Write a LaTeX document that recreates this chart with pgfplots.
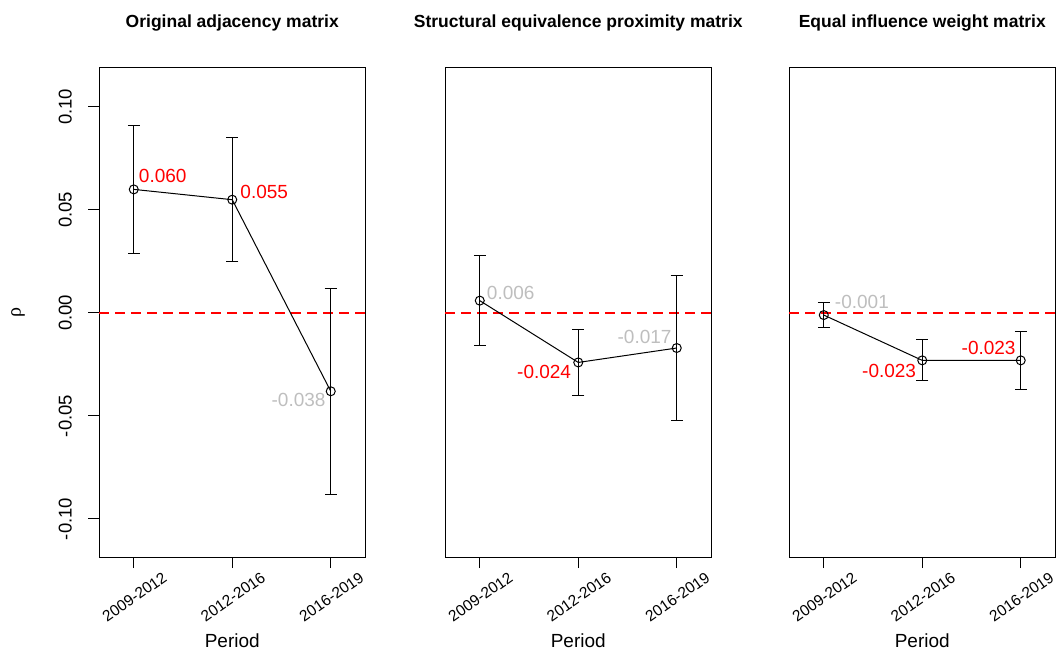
\documentclass[border=0pt]{standalone}
\usepackage{fontspec}
\setmainfont{Liberation Sans}
\newfontfamily\greekfont{Liberation Serif}
\usepackage{pgfplots}
\pgfplotsset{compat=1.18}

\definecolor{lblgray}{RGB}{190,190,190}
\definecolor{lblred}{RGB}{255,0,0}

\tikzset{lbl/.style={inner sep=0pt, font=\fontsize{19}{19}\selectfont}}

\pgfplotsset{
  panel/.style={
    scale only axis, width=266.5pt, height=489pt, anchor=south west,
    xmin=0.647, xmax=3.353, ymin=-0.11845, ymax=0.11893,
    axis line style={line width=1pt},
    xtick={1,2,3}, xticklabels={2009-2012,2012-2016,2016-2019},
    xtick pos=bottom, tick align=outside, major tick length=11pt,
    every tick/.style={black, line width=1pt},
    xticklabel style={font=\fontsize{15.5}{15.5}\selectfont, inner sep=0pt,
      anchor=north east, xshift=28pt, yshift=-3pt, rotate=35},
    xlabel={Period},
    xlabel style={font=\fontsize{19}{19}\selectfont,
      at={(axis description cs:0.5,-0.171)}, anchor=center},
    title style={font=\bfseries\fontsize{17.5}{17.5}\selectfont,
      at={(axis description cs:0.5,1.079)}, anchor=center},
    ytick=\empty,
  },
  series/.style={black, line width=1pt, mark=o, mark size=4.5pt,
    mark options={solid, line width=1pt},
    error bars/.cd, y dir=both, y explicit, error mark=|,
    error bar style={line width=1pt, black},
    error mark options={black, line width=1pt, mark size=6pt}},
  zero/.style={red, line width=1.5pt, dash pattern=on 10pt off 6pt},
}

\begin{document}
\begin{tikzpicture}
\path[use as bounding box] (0,0) rectangle (1056pt,651pt);

% panel 1
\begin{axis}[panel, at={(99pt,94pt)},
  title={Original adjacency matrix},
  ytick={-0.1,-0.05,0,0.05,0.1},
  yticklabels={-0.10,-0.05,0.00,0.05,0.10},
  ytick pos=left,
  yticklabel style={font=\fontsize{18.5}{18.5}\selectfont, inner sep=0pt,
    anchor=south, xshift=-16pt, rotate=90},
  ylabel={\greekfont ρ},
  ylabel style={font=\fontsize{20}{20}\selectfont,
    at={(axis description cs:-0.304,0.5)}, anchor=center},
]
\addplot[zero] coordinates {(0.647,0) (3.353,0)};
\addplot[series] coordinates {
  (1,0.060) +- (0,0.031)
  (2,0.055) +- (0,0.030)
  (3,-0.038) +- (0,0.050)
};
\node[lbl, anchor=west, text=lblred] at ([xshift=5pt,yshift=13pt]axis cs:1,0.060) {0.060};
\node[lbl, anchor=west, text=lblred] at ([xshift=8pt,yshift=8pt]axis cs:2,0.055) {0.055};
\node[lbl, anchor=east, text=lblgray] at ([xshift=-5pt,yshift=-9pt]axis cs:3,-0.038) {-0.038};
\end{axis}

% panel 2
\begin{axis}[panel, at={(445pt,94pt)},
  title={Structural equivalence proximity matrix}]
\addplot[zero] coordinates {(0.647,0) (3.353,0)};
\addplot[series] coordinates {
  (1,0.006) +- (0,0.022)
  (2,-0.024) +- (0,0.016)
  (3,-0.017) +- (0,0.035)
};
\node[lbl, anchor=west, text=lblgray] at ([xshift=7pt,yshift=8pt]axis cs:1,0.006) {0.006};
\node[lbl, anchor=east, text=lblred] at ([xshift=-7pt,yshift=-10pt]axis cs:2,-0.024) {-0.024};
\node[lbl, anchor=east, text=lblgray] at ([xshift=-5pt,yshift=11pt]axis cs:3,-0.017) {-0.017};
\end{axis}

% panel 3
\begin{axis}[panel, at={(789pt,94pt)},
  title={Equal influence weight matrix}]
\addplot[zero] coordinates {(0.647,0) (3.353,0)};
\addplot[series] coordinates {
  (1,-0.001) +- (0,0.006)
  (2,-0.023) +- (0,0.010)
  (3,-0.023) +- (0,0.014)
};
\node[lbl, anchor=west, text=lblgray] at ([xshift=11pt,yshift=13pt]axis cs:1,-0.001) {-0.001};
\node[lbl, anchor=east, text=lblred] at ([xshift=-6pt,yshift=-11pt]axis cs:2,-0.023) {-0.023};
\node[lbl, anchor=east, text=lblred] at ([xshift=-5pt,yshift=12pt]axis cs:3,-0.023) {-0.023};
\end{axis}
\end{tikzpicture}
\end{document}
